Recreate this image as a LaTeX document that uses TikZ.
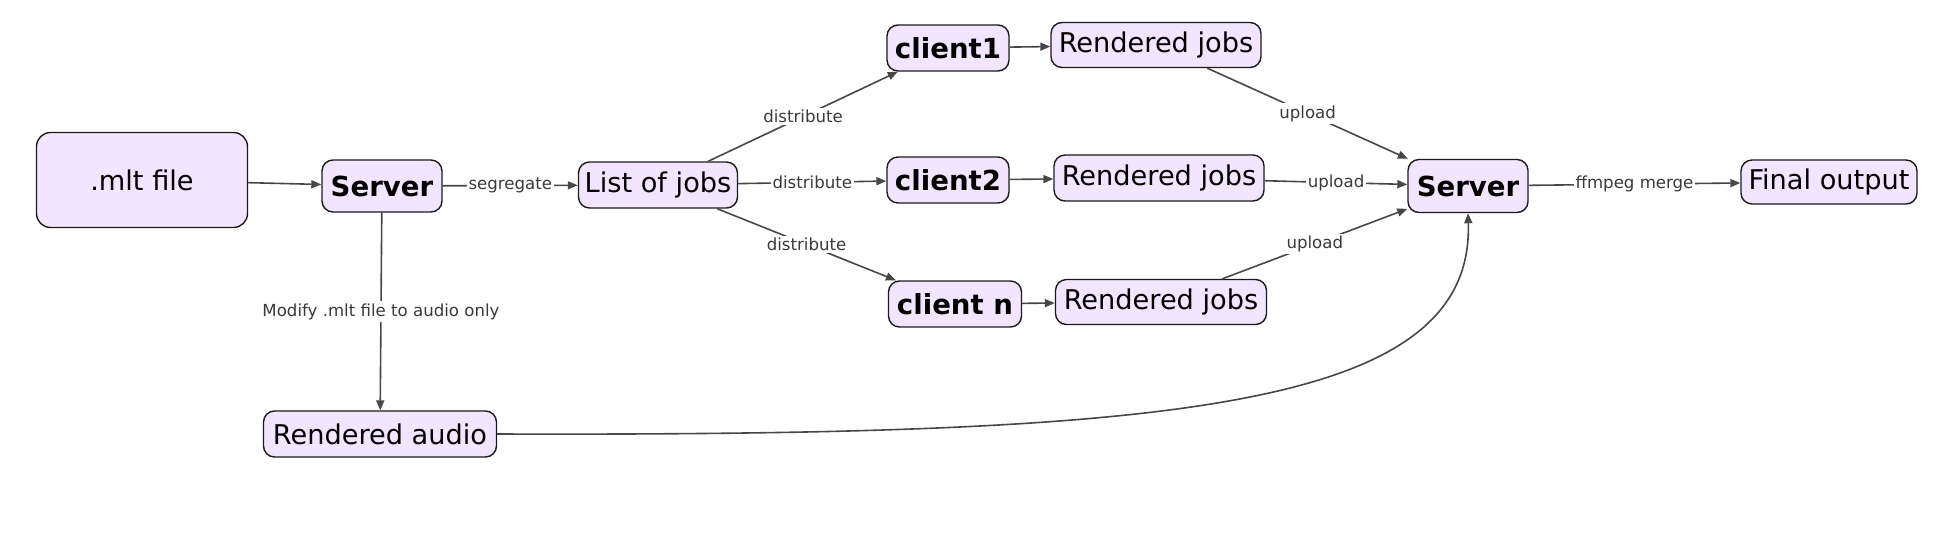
\documentclass[tikz,border=0pt]{standalone}
\usepackage{fontspec}
\setmainfont{DejaVu Sans}
\usetikzlibrary{arrows.meta}
\definecolor{nodefill}{HTML}{F2E5FF}
\definecolor{nodedraw}{HTML}{1A1A1A}
\definecolor{edgecol}{HTML}{474747}
\definecolor{labcol}{HTML}{3A3A3A}
\tikzset{
  box/.style={draw=nodedraw, fill=nodefill, line width=1.4pt, rounded corners=11pt,
    inner sep=0pt, align=center, font=\fontsize{27.2}{30}\selectfont},
  boldbox/.style={box, font=\fontsize{27.6}{30}\selectfont\bfseries},
  conn/.style={draw=edgecol, line width=1.6pt, -{Triangle[length=10pt,width=8pt]}},
  elab/.style={fill=white, text=labcol, inner sep=2pt, font=\fontsize{16.6}{18}\selectfont}
}
\begin{document}
\begin{tikzpicture}[x=1pt,y=-1pt]
\useasboundingbox (0,0) rectangle (1942,536);
\node[box, minimum width=211pt, minimum height=95pt, rounded corners=14pt] (mlt) at (142,180) {.mlt file};
\node[boldbox, minimum width=120pt, minimum height=52pt] (srv1) at (382,186) {Server};
\node[box, minimum width=159pt, minimum height=46pt] (list) at (658,185) {List of jobs};
\node[boldbox, minimum width=122pt, minimum height=46pt] (c1) at (948,48) {client1};
\node[boldbox, minimum width=122pt, minimum height=46pt] (c2) at (948,180) {client2};
\node[boldbox, minimum width=133pt, minimum height=46pt] (cn) at (955,304) {client n};
\node[box, minimum width=210pt, minimum height=45pt] (rj1) at (1156,45) {Rendered jobs};
\node[box, minimum width=210pt, minimum height=46pt] (rj2) at (1159,178) {Rendered jobs};
\node[box, minimum width=211pt, minimum height=45pt] (rj3) at (1161,302) {Rendered jobs};
\node[boldbox, minimum width=120pt, minimum height=53pt] (srv2) at (1468,186) {Server};
\node[box, minimum width=176pt, minimum height=44pt] (final) at (1829,182) {Final output};
\node[box, minimum width=233pt, minimum height=46pt] (audio) at (380,434) {Rendered audio};

\draw[conn] (mlt) -- (srv1);
\draw[conn] (srv1) -- node[elab] {segregate} (list);
\draw[conn] (srv1) -- node[elab] {Modify .mlt file to audio only} (audio);
\draw[conn] (list) -- node[elab] {distribute} (c1);
\draw[conn] (list) -- node[elab] {distribute} (c2);
\draw[conn] (list) -- node[elab] {distribute} (cn);
\draw[conn] (c1) -- (rj1);
\draw[conn] (c2) -- (rj2);
\draw[conn] (cn) -- (rj3);
\draw[conn] (rj1) -- node[elab] {upload} (srv2);
\draw[conn] (rj2) -- node[elab] {upload} (srv2);
\draw[conn] (rj3) -- node[elab] {upload} (srv2);
\draw[conn] (srv2) -- node[elab] {ffmpeg merge} (final);
\draw[conn] (audio.east) .. controls (1177,436) and (1474,409) .. (srv2.south);
\end{tikzpicture}
\end{document}
